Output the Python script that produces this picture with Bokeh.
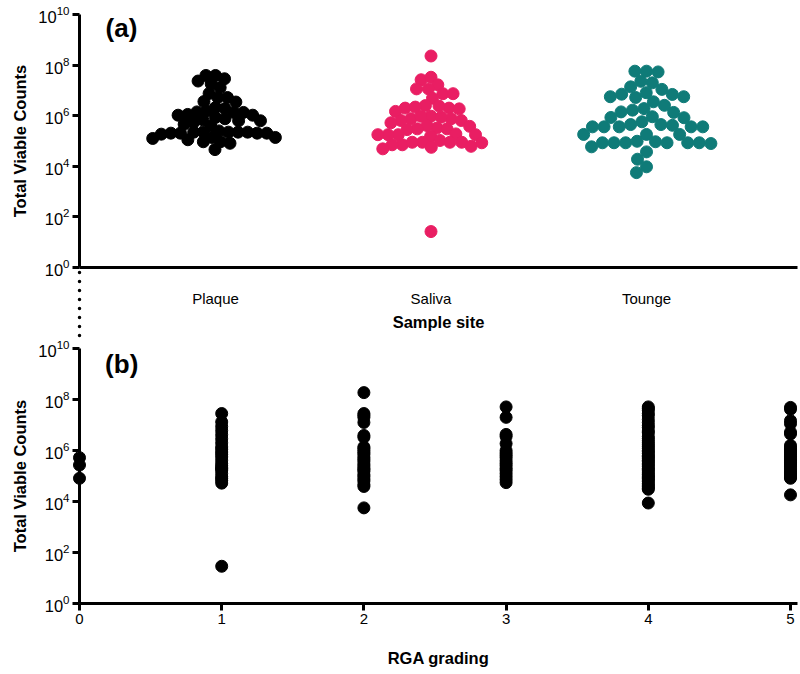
import math
from bokeh.plotting import figure
from bokeh.layouts import column
from bokeh.models import Range1d, FixedTicker, Label, LogTickFormatter
from bokeh.embed import file_html
from bokeh.resources import INLINE

# ---------------- data (log10 of total viable counts) ----------------
sites = ["Plaque", "Saliva", "Tounge"]
site_colors = ["#000000", "#e91e63", "#0f7b78"]

plaque_log10 = [7.59, 7.59, 7.46, 7.37, 7.25, 7.11, 6.88, 6.72, 6.72, 6.54, 6.56,
                6.32, 6.28, 6.19, 6.15, 6.13, 6.13, 6.05, 6.02, 6.02, 5.93, 5.88,
                5.84, 5.80, 5.80, 5.73, 5.66, 5.60, 5.35, 5.35, 5.35, 5.35, 5.36,
                5.27, 5.40, 5.31, 5.31, 5.31, 5.31, 5.14, 5.10, 5.14, 5.05, 4.97,
                4.91, 4.97, 4.66]
saliva_log10 = [8.36, 7.42, 7.52, 7.22, 7.06, 7.06, 6.87, 6.87, 6.69, 6.40, 6.30,
                6.30, 6.27, 6.34, 6.38, 6.17, 5.88, 5.88, 5.81, 5.81, 5.72, 5.98,
                5.98, 5.94, 5.58, 5.51, 5.61, 5.48, 5.48, 5.45, 5.25, 5.25, 5.25,
                5.25, 5.19, 5.28, 4.95, 4.93, 4.85, 4.85, 4.75, 4.69, 5.02, 4.95,
                4.95, 4.95, 4.79, 1.42]
tounge_log10 = [7.76, 7.73, 7.76, 7.36, 7.30, 7.14, 7.04, 6.84, 6.75, 6.75, 6.72,
                6.91, 6.85, 6.55, 6.41, 6.22, 6.13, 5.96, 6.15, 6.28, 5.93, 5.92,
                5.76, 5.56, 5.56, 5.56, 5.62, 5.56, 5.56, 5.65, 5.65, 5.26, 5.26,
                5.26, 4.99, 4.97, 4.93, 4.90, 4.93, 4.93, 4.93, 4.93, 4.93, 4.77,
                4.57, 4.28, 3.98, 3.75]

rga_grades = [0, 1, 2, 3, 4, 5]
rga0_log10 = [5.72, 5.43, 4.91]
rga1_log10 = [7.45, 7.12, 6.94, 6.78, 6.62, 6.46, 6.30, 6.14, 6.05, 5.94, 5.85, 5.75,
              5.62, 5.49, 5.40, 5.32, 5.23, 5.10, 4.97, 4.90, 4.82, 4.72, 5.28, 1.46]
rga2_log10 = [8.27, 7.45, 7.38, 7.30, 7.10, 6.59, 6.52, 6.14, 6.08, 6.00, 5.92, 5.85,
              5.74, 5.66, 5.58, 5.47, 5.39, 5.30, 5.25, 5.18, 5.05, 4.98, 4.88, 4.80,
              4.66, 4.59, 3.75]
rga3_log10 = [7.71, 7.30, 6.63, 6.55, 6.27, 6.00, 5.90, 5.81, 5.72, 5.60, 5.50, 5.41,
              5.30, 5.22, 5.10, 4.98, 4.86, 4.74]
rga4_log10 = [7.71, 7.65, 7.58, 7.45, 7.37, 7.22, 7.10, 6.98, 6.90, 6.76, 6.70, 6.55,
              6.47, 6.38, 6.30, 6.22, 6.15, 6.08, 6.00, 5.95, 5.88, 5.80, 5.76, 5.70,
              5.62, 5.58, 5.50, 5.44, 5.38, 5.30, 5.26, 5.20, 5.12, 5.06, 5.00, 4.95,
              4.90, 4.84, 4.78, 4.70, 4.64, 4.58, 4.52, 4.48, 3.94]
rga5_log10 = [7.69, 7.62, 7.17, 7.05, 6.72, 6.65, 6.20, 6.12, 6.05, 5.98, 5.90, 5.82,
              5.75, 5.68, 5.60, 5.52, 5.45, 5.38, 5.30, 5.22, 5.15, 5.08, 5.00, 4.95,
              4.91, 4.26, 5.55]

y_tick_values = [1e0, 1e2, 1e4, 1e6, 1e8, 1e10]

# ---------------- styling / geometry ----------------
FONT = "Liberation Sans"
W = 800
FRAME_LEFT = 79
FRAME_RIGHT_BORDER = 3
FRAME_W = W - FRAME_LEFT - FRAME_RIGHT_BORDER
PPD = 25.3          # pixels per decade
MARK = 12           # marker diameter px
SWARM_DIST = [9.6, 10.2, 11.6]

TOP_H = 340
TOP_BORDER = 14
TOP_FRAME_H = 253
TOP_BOTTOM = TOP_H - TOP_BORDER - TOP_FRAME_H
CAT_PX = 215.5
top_x_start = -(215 - FRAME_LEFT) / CAT_PX
top_x_end = top_x_start + FRAME_W / CAT_PX
dots_y_end = 10 ** (-(TOP_BOTTOM - 2) / PPD)


def swarm_offsets(logs, ppd, dist):
    """classic beeswarm: horizontal offsets in pixels"""
    n = len(logs)
    order = sorted(range(n), key=lambda i: -logs[i])
    placed = []
    offs = [0.0] * n
    for i in order:
        y = logs[i] * ppd
        cands = [0.0]
        for (px, py) in placed:
            dy = abs(py - y)
            if dy < dist:
                dx = math.sqrt(dist * dist - dy * dy)
                cands += [px + dx, px - dx]
        cands.sort(key=lambda c: (round(abs(c), 6), c))
        for c in cands:
            if all((c - px) ** 2 + (y - py) ** 2 >= dist * dist - 1e-6 for px, py in placed):
                offs[i] = c
                break
        placed.append((offs[i], y))
    return offs


def style_axis(ax):
    ax.axis_line_width = 3
    ax.axis_line_color = "black"
    ax.major_tick_line_width = 3
    ax.major_tick_line_color = "black"
    ax.major_tick_in = 0
    ax.major_tick_out = 7
    ax.minor_tick_line_color = None
    ax.major_label_text_font = FONT
    ax.major_label_text_font_size = "15px"
    ax.major_label_text_color = "black"
    ax.axis_label_text_font = FONT
    ax.axis_label_text_font_size = "16.5px"
    ax.axis_label_text_font_style = "bold"
    ax.axis_label_text_color = "black"


def style_log_yaxis(ax):
    style_axis(ax)
    ax.ticker = FixedTicker(ticks=y_tick_values)
    ax.formatter = LogTickFormatter()
    ax.major_label_text_font_size = "16.5px"
    ax.axis_label = "Total Viable Counts"
    ax.axis_label_standoff = 6
    ax.major_label_standoff = 3


# ---------------- top panel ----------------
p1 = figure(width=W, height=TOP_H, x_range=Range1d(top_x_start, top_x_end),
            y_range=Range1d(1, 1e10), y_axis_type="log",
            output_backend="svg", toolbar_location=None,
            min_border_left=FRAME_LEFT, min_border_right=FRAME_RIGHT_BORDER,
            min_border_top=TOP_BORDER, min_border_bottom=TOP_BOTTOM)
p1.outline_line_color = None
p1.grid.visible = False

for i, (logs, col, dist) in enumerate(zip([plaque_log10, saliva_log10, tounge_log10],
                                          site_colors, SWARM_DIST)):
    offs = swarm_offsets(logs, PPD, dist)
    xs = [i + o / CAT_PX for o in offs]
    ys = [10 ** v for v in logs]
    p1.scatter(xs, ys, size=MARK, color=col, line_color=col)

# dotted continuation of the y axis below the x axis (drawn unclipped)
dots = p1.segment(x0=[top_x_start], y0=[10 ** -0.2], x1=[top_x_start], y1=[dots_y_end],
                  line_dash="0 9", line_cap="round", line_width=3.5, color="black")
dots.level = "annotation"

style_log_yaxis(p1.yaxis[0])

xa = p1.xaxis[0]
style_axis(xa)
xa.ticker = FixedTicker(ticks=[0, 1, 2])
xa.major_label_overrides = {i: s for i, s in enumerate(sites)}
xa.major_tick_out = 0
xa.major_label_standoff = 22
xa.axis_label = "Sample site"
xa.axis_label_standoff = 3

p1.add_layout(Label(x=-0.51, y=10 ** 9.45, text="(a)", text_font=FONT, text_font_size="26px",
                    text_font_style="bold", text_baseline="middle", text_color="black"))

# ---------------- bottom panel ----------------
BOT_H = 674 - TOP_H
BOT_TOP = 8
BOT_BOTTOM = 71
GRADE_PX = 142.2
bot_x_start = 0
bot_x_end = bot_x_start + FRAME_W / GRADE_PX

p2 = figure(width=W, height=BOT_H, x_range=Range1d(bot_x_start, bot_x_end),
            y_range=Range1d(1, 1e10), y_axis_type="log",
            output_backend="svg", toolbar_location=None,
            min_border_left=FRAME_LEFT, min_border_right=FRAME_RIGHT_BORDER,
            min_border_top=BOT_TOP, min_border_bottom=BOT_BOTTOM)
p2.outline_line_color = None
p2.grid.visible = False

for g, logs in zip(rga_grades, [rga0_log10, rga1_log10, rga2_log10, rga3_log10, rga4_log10, rga5_log10]):
    r = p2.scatter([g] * len(logs), [10 ** v for v in logs], size=MARK, color="black")
    r.level = "annotation"

style_log_yaxis(p2.yaxis[0])

xb = p2.xaxis[0]
style_axis(xb)
xb.ticker = FixedTicker(ticks=rga_grades)
xb.major_tick_out = 7
xb.major_label_standoff = 3
xb.axis_label = "RGA grading"
xb.axis_label_standoff = 22

p2.add_layout(Label(x=0.18, y=10 ** 9.4, text="(b)", text_font=FONT, text_font_size="26px",
                    text_font_style="bold", text_baseline="middle", text_color="black"))

layout = column(p1, p2, spacing=0)
open("out.html", "w").write(file_html(layout, INLINE))
